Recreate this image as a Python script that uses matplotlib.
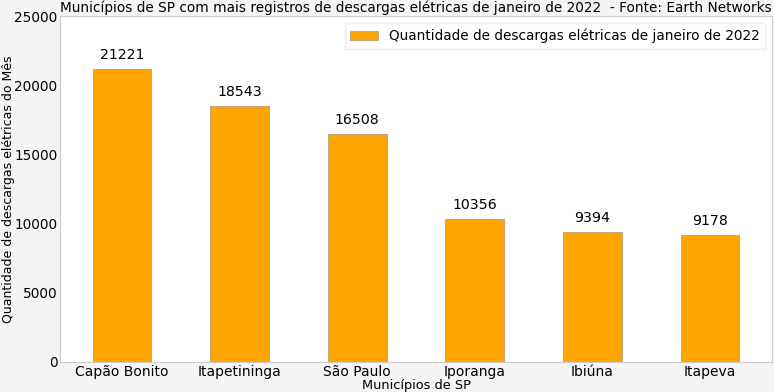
import matplotlib.pyplot as plt
import numpy as np

municipios = ['Capão Bonito', 'Itapetininga', 'São Paulo', 'Iporanga', 'Ibiúna', 'Itapeva']
descargas = [21221, 18543, 16508, 10356, 9394, 9178]

fig, ax = plt.subplots(figsize=(7.74, 3.92), dpi=100)
fig.patch.set_facecolor('#f5f5f5')
ax.set_facecolor('white')

x = np.arange(len(municipios))
bars = ax.bar(x, descargas, width=0.5, color='orange', edgecolor='#b8a070', linewidth=0.6,
              label='Quantidade de descargas elétricas de janeiro de 2022')
for b, v in zip(bars, descargas):
    ax.text(b.get_x() + b.get_width() / 2, v + 500, str(v), ha='center', va='bottom', fontsize=10.2)

ax.set_xticks(x)
ax.set_xticklabels(municipios, fontsize=10)
ax.tick_params(axis='y', labelsize=9.8)
ax.tick_params(length=0, pad=2)
ax.set_ylim(0, 25000)
for s in ax.spines.values():
    s.set_color('#cccccc')
    s.set_linewidth(0.8)

ax.set_title('Municípios de SP com mais registros de descargas elétricas de janeiro de 2022  - Fonte: Earth Networks',
             fontsize=9.8, pad=3)
ax.set_xlabel('Municípios de SP', fontsize=9.3, labelpad=0)
ax.set_ylabel('Quantidade de descargas elétricas do Mês', fontsize=9.0)
ax.yaxis.set_label_coords(-0.064, 0.5)
leg = ax.legend(loc='upper right', fontsize=9.85, framealpha=1, fancybox=False, edgecolor='#eeeeee')

fig.subplots_adjust(left=0.078, right=0.997, top=0.958, bottom=0.077)
fig.savefig('out.png', dpi=100, facecolor=fig.get_facecolor())
